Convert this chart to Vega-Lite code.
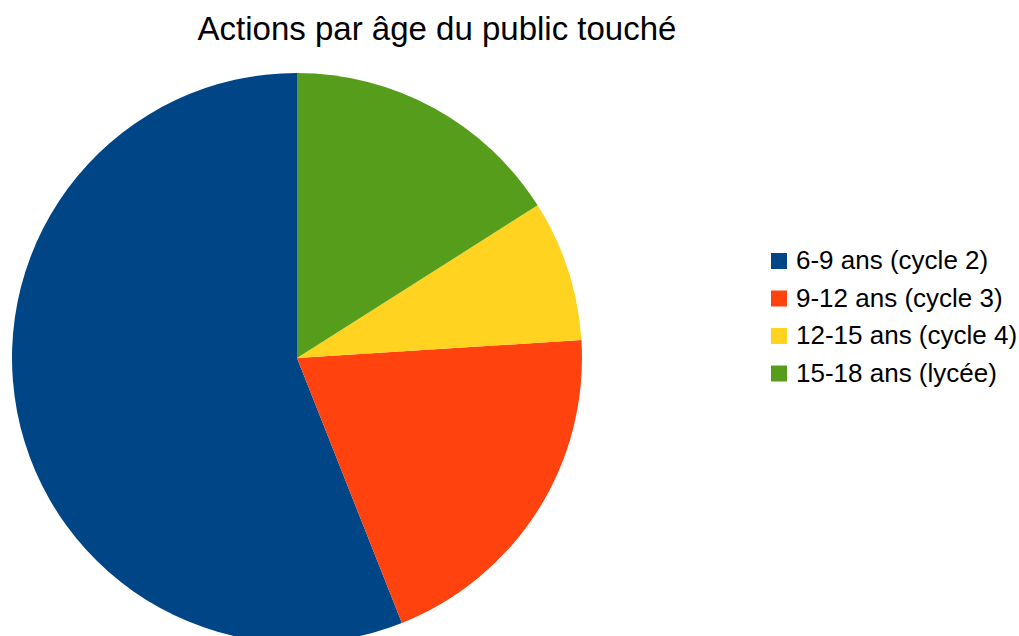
{
  "$schema": "https://vega.github.io/schema/vega-lite/v6.json",
  "autosize": "none",
  "width": 594,
  "height": 596,
  "padding": {"left": 0, "top": 60, "right": 425, "bottom": 0},
  "background": "white",
  "title": {
    "text": "Actions par âge du public touché",
    "font": "Liberation Sans",
    "fontSize": 33,
    "fontWeight": "normal",
    "color": "#000000",
    "anchor": "middle",
    "dx": 140,
    "offset": 13
  },
  "data": {
    "values": [
      {"tranche": "6-9 ans (cycle 2)", "rang": 1, "actions": 14},
      {"tranche": "9-12 ans (cycle 3)", "rang": 2, "actions": 5},
      {"tranche": "12-15 ans (cycle 4)", "rang": 3, "actions": 2},
      {"tranche": "15-18 ans (lycée)", "rang": 4, "actions": 4}
    ]
  },
  "mark": {"type": "arc", "radius": 285},
  "encoding": {
    "theta": {"field": "actions", "type": "quantitative", "stack": true},
    "order": {"field": "rang", "type": "quantitative", "sort": "descending"},
    "color": {
      "field": "tranche",
      "type": "nominal",
      "sort": ["6-9 ans (cycle 2)", "9-12 ans (cycle 3)", "12-15 ans (cycle 4)", "15-18 ans (lycée)"],
      "scale": {
        "domain": ["6-9 ans (cycle 2)", "9-12 ans (cycle 3)", "12-15 ans (cycle 4)", "15-18 ans (lycée)"],
        "range": ["#004586", "#ff420e", "#ffd320", "#579d1c"]
      },
      "legend": {
        "title": null,
        "orient": "none",
        "legendX": 766,
        "legendY": 188,
        "padding": 0,
        "symbolType": "square",
        "symbolSize": 256,
        "symbolStrokeWidth": 0,
        "labelFont": "Liberation Sans",
        "labelFontSize": 26,
        "labelColor": "#000000",
        "labelOffset": 4,
        "rowPadding": 11.5,
        "labelLimit": 400
      }
    }
  },
  "config": {"view": {"stroke": null}}
}
